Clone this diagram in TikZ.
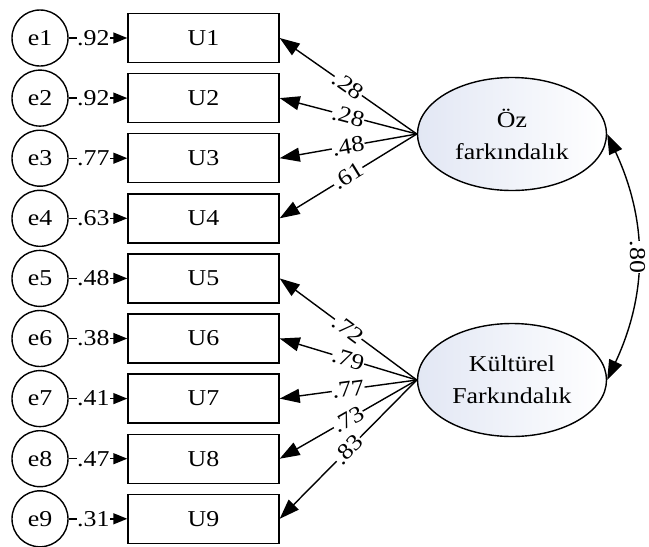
\documentclass[tikz,border=0pt]{standalone}
\usepackage{fontspec}
\setmainfont{Liberation Serif}[FakeStretch=1.14]
\usetikzlibrary{shapes.geometric,arrows.meta}
\definecolor{latfill}{RGB}{226,231,244}
\begin{document}
\begin{tikzpicture}[x=1pt,y=-1pt,
  font=\fontsize{22.7}{32}\selectfont,
  errc/.style={circle, draw, line width=1.4pt, minimum size=56pt, inner sep=0pt},
  obsbox/.style={rectangle, draw, line width=1.4pt, minimum width=151pt, minimum height=49pt, inner sep=0pt},
  lat/.style={ellipse, draw, line width=1.4pt, minimum width=189pt, minimum height=113pt, inner sep=0pt, align=center, left color=latfill, right color=white},
  loadarrow/.style={line width=1.4pt, -{Triangle[length=20pt,width=14pt]}},
  errarrow/.style={line width=1.4pt, -{Triangle[length=14pt,width=11pt]}},
  covarrow/.style={line width=1.4pt, {Triangle[length=20pt,width=14pt]}-{Triangle[length=20pt,width=14pt]}},
  lab/.style={fill=white, inner sep=0.3pt}
]
\useasboundingbox (0,0) rectangle (649,547);

\foreach \i in {1,...,9}{
  \pgfmathsetmacro{\yy}{38+60.1*(\i-1)}
  \node[errc] (e\i) at (40,\yy) {e\i};
  \node[obsbox] (u\i) at (203.5,\yy) {U\i};
}

\node[lat] (oz) at (512,134) {Öz\\farkındalık};
\node[lat] (kf) at (512,380) {Kültürel\\Farkındalık};

\foreach \i/\v in {1/.92,2/.92,3/.77,4/.63,5/.48,6/.38,7/.41,8/.47,9/.31}{
  \draw[errarrow] (e\i) -- node[lab, pos=0.42] {\v} (u\i.west);
}

\foreach \i/\v in {1/.28,2/.28,3/.48,4/.61}{
  \draw[loadarrow] (oz.west) -- node[lab, sloped, midway] {\v} (u\i.east);
}
\foreach \i/\v in {5/.72,6/.79,7/.77,8/.73,9/.83}{
  \draw[loadarrow] (kf.west) -- node[lab, sloped, midway] {\v} (u\i.east);
}

\draw[covarrow] (oz.east) to[bend left=25] node[lab, midway, rotate=-90] {.80} (kf.east);
\end{tikzpicture}
\end{document}
